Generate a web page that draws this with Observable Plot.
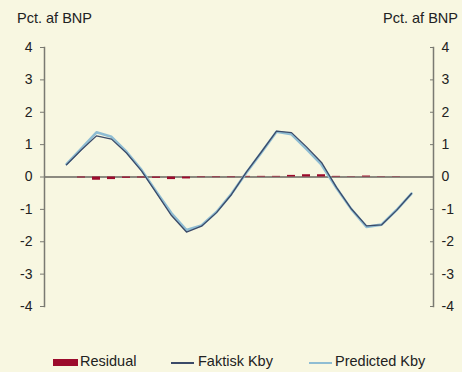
<!DOCTYPE html>
<html>
<head>
<meta charset="utf-8">
<script src="https://cdn.jsdelivr.net/npm/d3@7"></script>
<script src="https://cdn.jsdelivr.net/npm/@observablehq/plot@0.6"></script>
<style>
  html, body { margin: 0; padding: 0; background: #f8f7e1; }
  #wrap { position: relative; width: 462px; height: 372px; overflow: hidden; font-family: "Liberation Sans", Arial, sans-serif; color: #222; }
  .ttl { position: absolute; top: 10px; font-size: 14.5px; white-space: nowrap; }
  .legend { position: absolute; top: 353px; left: 0; width: 462px; height: 18px; font-size: 14.5px; }
  .legend span { position: absolute; top: 0; white-space: nowrap; }
  .sw { position: absolute; }
</style>
</head>
<body>
<div id="wrap"></div>
<script>
const periods = d3.range(24);
const predicted = [0.40, 0.88, 1.38, 1.24, 0.78, 0.22, -0.46, -1.12, -1.64, -1.50, -1.08, -0.52, 0.14, 0.76, 1.40, 1.32, 0.86, 0.38, -0.34, -1.00, -1.54, -1.47, -1.02, -0.51];
const faktisk   = [0.38, 0.84, 1.27, 1.17, 0.74, 0.19, -0.50, -1.19, -1.70, -1.52, -1.10, -0.54, 0.16, 0.78, 1.42, 1.37, 0.93, 0.45, -0.32, -0.99, -1.51, -1.48, -1.03, -0.51];
const residual  = [0.00, -0.03, -0.10, -0.08, -0.04, -0.03, -0.04, -0.08, -0.06, -0.02, -0.02, -0.02, 0.02, 0.02, 0.02, 0.05, 0.07, 0.07, 0.02, 0.01, 0.03, -0.01, -0.01, 0.00];
const yTicks = [-4, -3, -2, -1, 0, 1, 2, 3, 4];
const labels = { title: "Pct. af BNP", residual: "Residual", faktisk: "Faktisk Kby", predicted: "Predicted Kby" };

const colors = { residual: "#9c0b2c", faktisk: "#3b4a68", predicted: "#8fbdd3", axis: "#7a7a72", zero: "#8c8a80" };

const rows = periods.map((p, i) => ({ p, pred: predicted[i], fak: faktisk[i], res: residual[i] }));

const chart = Plot.plot({
  width: 462,
  height: 372,
  marginLeft: 44,
  marginRight: 29,
  marginTop: 47,
  marginBottom: 66,
  style: { background: "transparent", fontFamily: "Liberation Sans, Arial, sans-serif", fontSize: "14px", color: "#222" },
  x: { type: "band", domain: periods, padding: 0.5, axis: null },
  y: { domain: [-4, 4], axis: null },
  marks: [
    Plot.ruleY([0], { stroke: colors.zero, strokeWidth: 2 }),
    Plot.barY(rows, { x: "p", y: "res", fill: colors.residual }),
    Plot.line(rows, { x: "p", y: "pred", stroke: colors.predicted, strokeWidth: 2.6 }),
    Plot.line(rows, { x: "p", y: "fak", stroke: colors.faktisk, strokeWidth: 1.3 }),
    Plot.axisY(yTicks, { anchor: "left", tickSize: 4, tickPadding: 8, stroke: colors.axis, tickFormat: d => String(d), fontSize: 14, fill: "#222" }),
    Plot.axisY(yTicks, { anchor: "right", tickSize: -4, tickPadding: 12, stroke: colors.axis, tickFormat: d => String(d), fontSize: 14, fill: "#222" }),
    Plot.frame({ anchor: "left", stroke: colors.axis, strokeWidth: 1.5 }),
    Plot.frame({ anchor: "right", stroke: colors.axis, strokeWidth: 1.5 })
  ]
});

const wrap = document.getElementById("wrap");
wrap.appendChild(chart);
chart.style.position = "absolute";
chart.style.left = "0";
chart.style.top = "0";

const t1 = document.createElement("div");
t1.className = "ttl"; t1.style.left = "17px"; t1.textContent = labels.title;
const t2 = document.createElement("div");
t2.className = "ttl"; t2.style.left = "383px"; t2.textContent = labels.title;
wrap.appendChild(t1); wrap.appendChild(t2);

const lg = document.createElement("div");
lg.className = "legend";
lg.innerHTML = `
  <div class="sw" style="left:53px;top:6px;width:25px;height:7px;background:${colors.residual}"></div>
  <span style="left:80px">${labels.residual}</span>
  <div class="sw" style="left:171px;top:9px;width:23px;height:1.5px;background:${colors.faktisk}"></div>
  <span style="left:198px">${labels.faktisk}</span>
  <div class="sw" style="left:309px;top:9px;width:23px;height:2px;background:${colors.predicted}"></div>
  <span style="left:335px">${labels.predicted}</span>`;
wrap.appendChild(lg);
</script>
</body>
</html>
